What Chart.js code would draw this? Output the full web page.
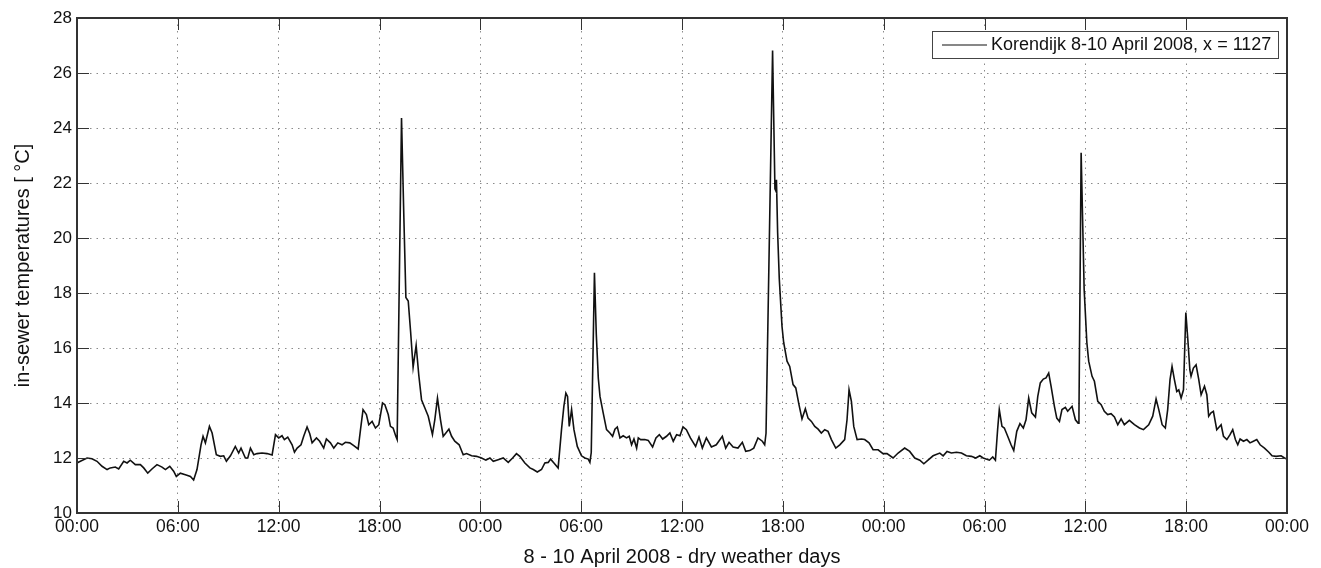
<!DOCTYPE html>
<html>
<head>
<meta charset="utf-8">
<script src="https://cdn.jsdelivr.net/npm/chart.js@4"></script>
<style>
  body { margin: 0; background: #fff; }
  #wrap { width: 1321px; height: 568px; position: relative; }
</style>
</head>
<body>
<div id="wrap"><canvas id="chart-temp"></canvas></div>
<script>
// time in hours since 8 April 00:00, temperature in degC
var hours = [
  0.00, 0.20, 0.60, 0.89, 1.19, 1.49, 1.79, 1.98, 2.28, 2.48, 2.78, 2.98, 3.17, 3.47, 3.77, 3.97,
  4.21, 4.46, 4.76, 5.06, 5.26, 5.52, 5.75, 5.91, 6.15, 6.45, 6.75, 6.94, 7.14, 7.38, 7.50, 7.64,
  7.88, 8.04, 8.29, 8.53, 8.73, 8.89, 9.13, 9.42, 9.62, 9.76, 10.02, 10.16, 10.32, 10.52, 10.71, 11.01,
  11.31, 11.61, 11.81, 12.00, 12.20, 12.34, 12.54, 12.80, 12.94, 13.10, 13.33, 13.49, 13.69, 13.85, 13.99, 14.25,
  14.44, 14.68, 14.84, 15.08, 15.28, 15.52, 15.77, 15.97, 16.23, 16.47, 16.73, 16.87, 17.02, 17.22, 17.36, 17.56,
  17.76, 17.96, 18.18, 18.32, 18.52, 18.65, 18.81, 18.97, 19.05, 19.31, 19.45, 19.57, 19.71, 19.85, 20.00, 20.18,
  20.34, 20.50, 20.70, 20.90, 21.15, 21.29, 21.45, 21.63, 21.79, 21.95, 22.13, 22.29, 22.48, 22.74, 22.98, 23.18,
  23.48, 23.77, 24.07, 24.33, 24.57, 24.77, 25.06, 25.36, 25.66, 25.92, 26.15, 26.35, 26.65, 26.95, 27.15, 27.39,
  27.64, 27.84, 28.04, 28.18, 28.38, 28.63, 28.83, 28.97, 29.09, 29.19, 29.29, 29.43, 29.57, 29.77, 30.02, 30.22,
  30.42, 30.52, 30.60, 30.79, 30.90, 31.02, 31.12, 31.31, 31.51, 31.71, 31.87, 32.01, 32.15, 32.31, 32.50, 32.70,
  32.86, 33.00, 33.14, 33.30, 33.40, 33.54, 33.79, 33.99, 34.25, 34.45, 34.65, 34.85, 35.08, 35.28, 35.48, 35.68,
  35.88, 36.06, 36.26, 36.50, 36.81, 37.01, 37.21, 37.45, 37.75, 38.04, 38.40, 38.60, 38.80, 39.04, 39.33, 39.59,
  39.79, 40.03, 40.27, 40.52, 40.78, 40.92, 41.00, 41.39, 41.53, 41.58, 41.62, 41.69, 41.79, 41.95, 42.05, 42.25,
  42.41, 42.61, 42.77, 42.96, 43.14, 43.34, 43.50, 43.70, 43.90, 44.10, 44.29, 44.49, 44.69, 44.89, 45.15, 45.39,
  45.68, 45.82, 45.94, 46.08, 46.22, 46.42, 46.68, 46.87, 47.13, 47.37, 47.67, 47.96, 48.20, 48.56, 48.86, 49.25,
  49.55, 49.85, 50.15, 50.39, 50.64, 50.94, 51.34, 51.54, 51.77, 52.03, 52.33, 52.63, 52.92, 53.22, 53.48, 53.72,
  53.92, 54.29, 54.49, 54.65, 54.78, 54.88, 55.04, 55.18, 55.38, 55.58, 55.74, 55.92, 56.11, 56.31, 56.47, 56.63,
  56.81, 57.03, 57.17, 57.32, 57.50, 57.66, 57.82, 57.96, 58.16, 58.30, 58.46, 58.61, 58.81, 58.95, 59.21, 59.41,
  59.57, 59.62, 59.75, 59.93, 60.09, 60.20, 60.40, 60.54, 60.74, 60.94, 61.13, 61.33, 61.53, 61.73, 61.93, 62.13,
  62.32, 62.62, 62.92, 63.22, 63.46, 63.77, 64.01, 64.21, 64.37, 64.57, 64.76, 64.90, 65.04, 65.16, 65.30, 65.44,
  65.56, 65.70, 65.84, 65.98, 66.10, 66.22, 66.29, 66.43, 66.59, 66.75, 66.89, 67.09, 67.23, 67.34, 67.48, 67.62,
  67.82, 68.08, 68.22, 68.42, 68.61, 68.77, 68.93, 69.07, 69.21, 69.41, 69.61, 69.80, 70.00, 70.20, 70.40, 70.66,
  70.92, 71.11, 71.35, 71.65, 71.85, 72.00
];
var temps = [
  11.82, 11.88, 12.00, 11.97, 11.88, 11.70, 11.58, 11.64, 11.67, 11.60, 11.88, 11.82, 11.92, 11.76, 11.76, 11.64,
  11.45, 11.60, 11.76, 11.67, 11.58, 11.70, 11.52, 11.33, 11.45, 11.39, 11.33, 11.20, 11.58, 12.48, 12.79, 12.55,
  13.15, 12.91, 12.12, 12.06, 12.08, 11.88, 12.08, 12.42, 12.18, 12.36, 12.00, 12.00, 12.36, 12.12, 12.16, 12.18,
  12.16, 12.11, 12.85, 12.73, 12.81, 12.67, 12.76, 12.48, 12.21, 12.36, 12.48, 12.79, 13.13, 12.88, 12.55, 12.73,
  12.61, 12.36, 12.69, 12.55, 12.36, 12.55, 12.48, 12.57, 12.55, 12.45, 12.33, 13.03, 13.76, 13.58, 13.21, 13.33,
  13.09, 13.21, 14.00, 13.94, 13.58, 13.15, 13.09, 12.79, 12.67, 24.36, 20.74, 17.84, 17.71, 16.60, 15.30, 16.10,
  15.00, 14.12, 13.82, 13.52, 12.85, 13.39, 14.18, 13.39, 12.79, 12.91, 13.05, 12.79, 12.61, 12.48, 12.12, 12.16,
  12.08, 12.06, 12.00, 11.92, 12.00, 11.88, 11.94, 12.00, 11.84, 12.00, 12.16, 12.06, 11.82, 11.64, 11.58, 11.49,
  11.58, 11.82, 11.84, 11.96, 11.82, 11.64, 13.03, 13.88, 14.36, 14.24, 13.15, 13.76, 13.03, 12.42, 12.08, 12.00,
  11.96, 11.84, 12.20, 18.74, 16.50, 14.90, 14.24, 13.64, 13.03, 12.91, 12.79, 13.05, 13.13, 12.73, 12.81, 12.73,
  12.79, 12.48, 12.69, 12.36, 12.73, 12.67, 12.67, 12.64, 12.40, 12.73, 12.85, 12.69, 12.79, 12.91, 12.61, 12.85,
  12.81, 13.13, 13.03, 12.73, 12.42, 12.76, 12.36, 12.73, 12.40, 12.48, 12.79, 12.36, 12.57, 12.40, 12.36, 12.57,
  12.24, 12.27, 12.36, 12.73, 12.61, 12.48, 12.90, 26.82, 21.79, 21.72, 22.12, 20.21, 18.50, 16.79, 16.20, 15.52,
  15.33, 14.67, 14.55, 13.94, 13.42, 13.79, 13.45, 13.33, 13.15, 13.05, 12.91, 13.03, 12.97, 12.67, 12.36, 12.48,
  12.67, 13.39, 14.48, 14.06, 13.15, 12.67, 12.69, 12.67, 12.55, 12.30, 12.30, 12.16, 12.16, 12.00, 12.18, 12.36,
  12.24, 12.00, 11.92, 11.79, 11.92, 12.08, 12.18, 12.08, 12.24, 12.18, 12.21, 12.18, 12.08, 12.06, 12.00, 12.08,
  12.00, 11.92, 12.04, 11.92, 13.03, 13.76, 13.15, 13.09, 12.79, 12.48, 12.27, 12.97, 13.25, 13.09, 13.39, 14.18,
  13.64, 13.49, 14.24, 14.73, 14.87, 14.91, 15.09, 14.61, 13.88, 13.45, 13.33, 13.76, 13.84, 13.70, 13.88, 13.39,
  13.27, 13.60, 23.10, 18.13, 16.20, 15.52, 14.97, 14.79, 14.06, 13.94, 13.70, 13.58, 13.61, 13.49, 13.21, 13.42,
  13.21, 13.37, 13.21, 13.09, 13.03, 13.21, 13.52, 14.15, 13.76, 13.21, 13.09, 13.76, 14.85, 15.33, 14.85, 14.42,
  14.48, 14.18, 14.48, 17.29, 16.30, 15.20, 14.97, 15.27, 15.39, 14.85, 14.30, 14.61, 14.30, 13.52, 13.64, 13.70,
  13.03, 13.21, 12.79, 12.67, 12.85, 13.03, 12.67, 12.48, 12.69, 12.61, 12.67, 12.55, 12.61, 12.67, 12.48, 12.36,
  12.21, 12.08, 12.06, 12.08, 12.00, 11.96
];
var tickLabels = ["00:00", "06:00", "12:00", "18:00", "00:00", "06:00", "12:00", "18:00",
                  "00:00", "06:00", "12:00", "18:00", "00:00"];
var seriesLabel = "Korendijk 8-10 April 2008, x = 1127";

var FONT = "'Liberation Sans', Arial, Helvetica, sans-serif";
var INK = '#111';
var FRAME = '#333';

// matlab-like frame, inward ticks on all four sides, and legend box inside the plot
var matlabFrame = {
    id: 'matlabFrame',
    afterDraw: function(chart) {
        var ctx = chart.ctx;
        var a = chart.chartArea;
        var xs = chart.scales.x, ys = chart.scales.y;
        var tl = 12;
        ctx.save();
        ctx.strokeStyle = FRAME;
        ctx.lineWidth = 1;
        ctx.setLineDash([]);
        ctx.beginPath();
        xs.ticks.forEach(function(t) {
            var px = Math.round(xs.getPixelForValue(t.value)) + 0.5;
            ctx.moveTo(px, a.bottom); ctx.lineTo(px, a.bottom - tl);
            ctx.moveTo(px, a.top); ctx.lineTo(px, a.top + tl);
        });
        ys.ticks.forEach(function(t) {
            var py = Math.round(ys.getPixelForValue(t.value)) + 0.5;
            ctx.moveTo(a.left, py); ctx.lineTo(a.left + tl, py);
            ctx.moveTo(a.right, py); ctx.lineTo(a.right - tl, py);
        });
        ctx.stroke();
        ctx.lineWidth = 2;
        ctx.strokeRect(a.left, a.top, a.right - a.left, a.bottom - a.top);

        // legend
        var bx = 932, by = 31, bw = a.right - 9 - bx, bh = 27;
        ctx.fillStyle = '#fff';
        ctx.fillRect(bx, by, bw, bh);
        ctx.lineWidth = 1;
        ctx.strokeStyle = '#444';
        ctx.strokeRect(bx + 0.5, by + 0.5, bw, bh);
        ctx.strokeStyle = INK;
        ctx.lineWidth = 1.2;
        ctx.beginPath();
        ctx.moveTo(bx + 10, by + bh / 2 + 0.5);
        ctx.lineTo(bx + 55, by + bh / 2 + 0.5);
        ctx.stroke();
        ctx.fillStyle = INK;
        ctx.font = '18px ' + FONT;
        ctx.textBaseline = 'middle';
        ctx.textAlign = 'left';
        ctx.fillText(chart.data.datasets[0].label, bx + 59, by + bh / 2 + 1);
        ctx.restore();
    }
};

var chartT = document.getElementById("chart-temp");
var chartTemp = new Chart(chartT, {
    type: 'line',
    plugins: [matlabFrame],
    data: {
        datasets: [{
            label: seriesLabel,
            data: hours.map(function(h, i) { return {x: h, y: temps[i]}; }),
            borderColor: INK,
            borderWidth: 1.6,
            pointRadius: 0,
            tension: 0,
            fill: false,
        }]
    },
    options: {
        responsive: true,
        maintainAspectRatio: false,
        animation: false,
        layout: {
            padding: {left: 0, right: 34, top: 18, bottom: 0}
        },
        plugins: {
            legend: {display: false},
            tooltip: {enabled: false},
        },
        scales: {
            x: {
                type: 'linear',
                min: 0,
                max: 72,
                afterBuildTicks: function(scale) {
                    scale.ticks = tickLabels.map(function(l, i) { return {value: i * 6}; });
                },
                afterFit: function(scale) { scale.height = 55; },
                ticks: {
                    color: INK,
                    font: {family: FONT, size: 17.5},
                    padding: 4,
                    maxRotation: 0,
                    autoSkip: false,
                    callback: function(v) { return tickLabels[Math.round(v / 6)]; }
                },
                grid: {
                    color: '#8a8a8a',
                    lineWidth: 1,
                    drawTicks: false,
                },
                border: {display: false, dash: [1.5, 5]},
                title: {
                    display: true,
                    text: '8 - 10 April 2008 - dry weather days',
                    color: INK,
                    font: {family: FONT, size: 20, lineHeight: 1},
                    padding: {top: 0, bottom: 1}
                }
            },
            y: {
                min: 10,
                max: 28,
                afterBuildTicks: function(scale) {
                    var t = [];
                    for (var v = 10; v <= 28; v += 2) t.push({value: v});
                    scale.ticks = t;
                },
                afterFit: function(scale) { scale.width = 77; },
                ticks: {
                    color: INK,
                    font: {family: FONT, size: 17},
                    padding: 5,
                },
                grid: {
                    color: '#8a8a8a',
                    lineWidth: 1,
                    drawTicks: false,
                },
                border: {display: false, dash: [1.5, 5]},
                title: {
                    display: true,
                    text: 'in-sewer temperatures [ °C]',
                    color: INK,
                    font: {family: FONT, size: 20, lineHeight: 1},
                    padding: {top: 13, bottom: 0}
                }
            }
        }
    }
});
</script>
</body>
</html>
